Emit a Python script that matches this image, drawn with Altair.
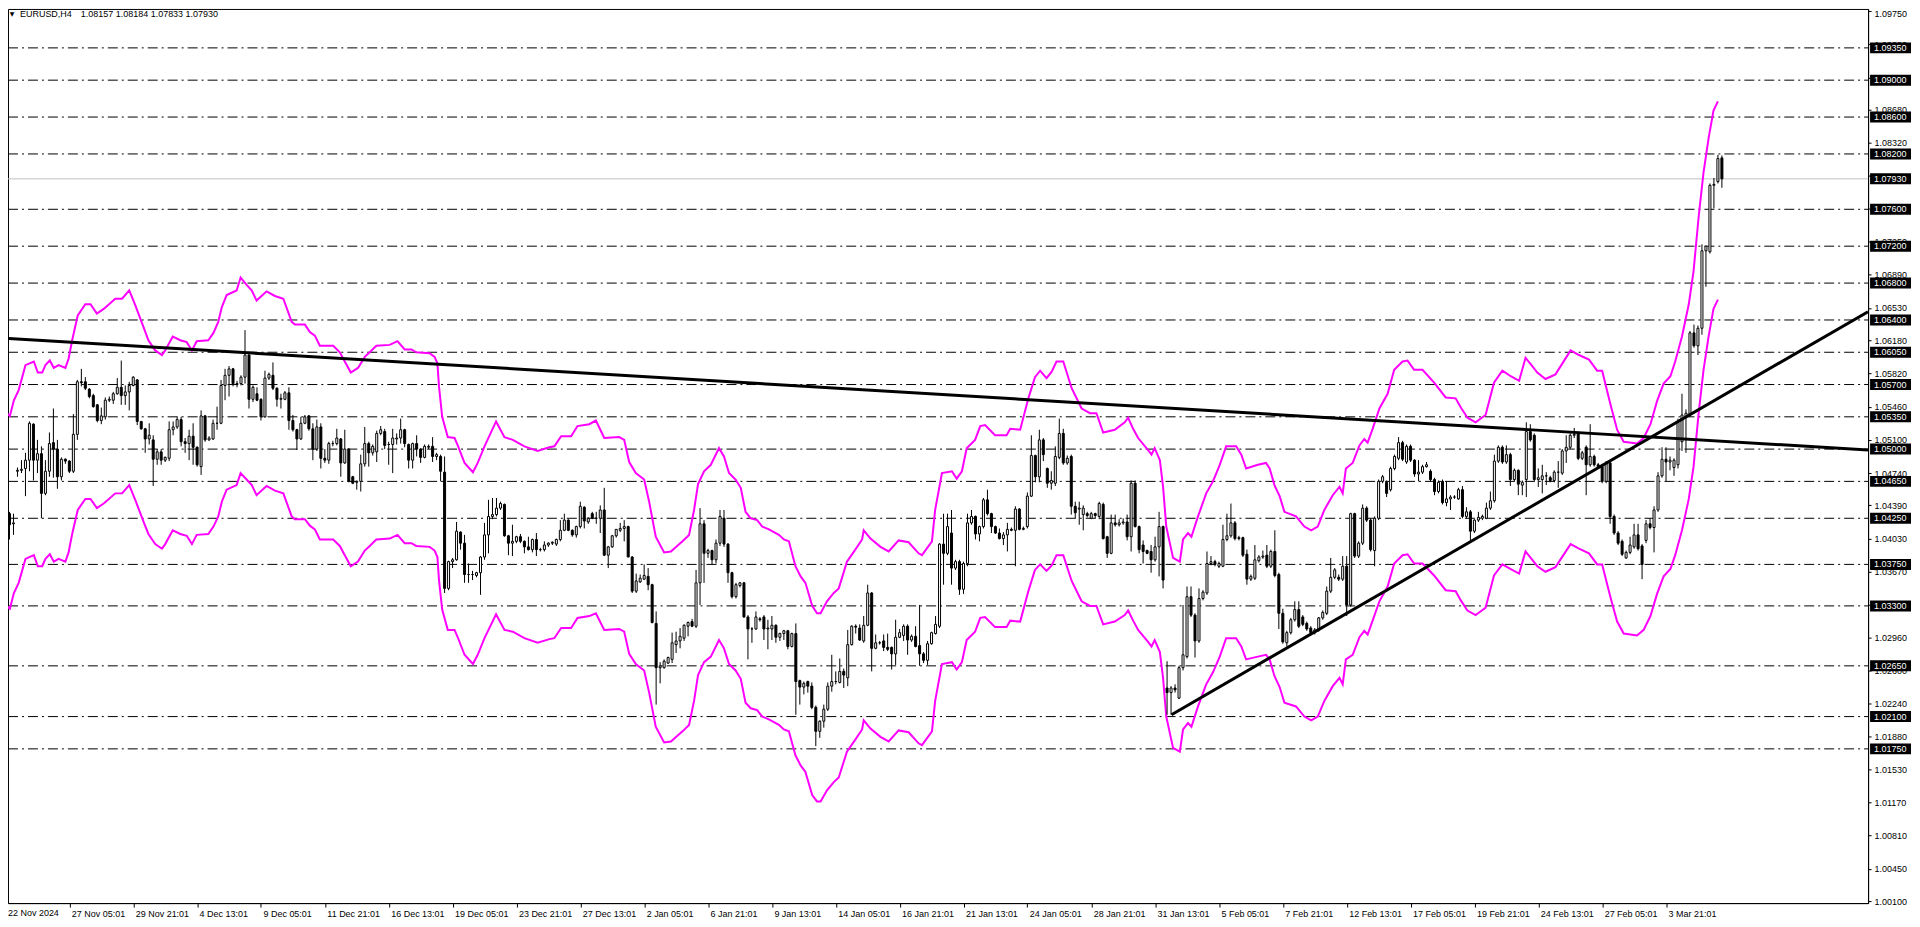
import altair as alt
import pandas as pd

# ---------------- data (prices in pips above 1.0000) ----------------
opens = [393,430,419,476,477,479,488,527,488,495, 452,476,507,500,470,489,487,476,516,573,
 573,565,558,548,531,535,553,553,560,567, 558,562,569,575,530,522,511,510,489,497,
 488,490,521,524,532,508,506,514,502,481, 536,510,511,528,528,569,580,587,571,571,
 578,602,554,560,554,535,577,580,566,554, 554,561,531,521,511,528,536,522,500,524,
 490,488,506,506,511,485,500,470,464,465, 484,506,496,497,517,519,505,505,511,512,
 521,505,488,506,500,491,502,503,492,492, 475,349,378,380,410,398,364,364,363,366,
 383,407,427,429,436,440,406,398,400,405, 400,394,391,402,391,391,396,398,397,402,
 412,423,412,407,416,437,421,430,425,425, 434,385,394,406,412,414,416,383,346,356,
 359,362,353,311,263,263,268,272,288,292, 295,308,313,308,355,419,387,390,380,398,
 425,397,366,340,352,355,318,305,305,316, 318,305,305,309,296,300,303,286,300,249,
 242,248,243,220,194,205,218,243,248,247, 259,252,288,308,306,292,309,344,284,290,
 292,285,285,278,296,298,308,293,297,287, 278,271,289,300,308,397,387,409,371,378,
 348,376,420,427,408,416,445,430,416,409, 403,407,413,412,435,413,416,449,493,470,
 510,479,463,463,491,517,485,492,438,435, 429,430,425,430,427,440,405,387,420,418,
 420,421,405,463,416,396,390,389,380,394, 416,241,236,241,230,263,275,340,320,292,
 338,344,376,378,373,373,402,406,420,403, 404,386,359,360,379,383,385,373,389,364,
 322,290,301,315,326,318,311,306,301,304, 317,322,346,361,361,359,373,331,430,384,
 398,436,423,390,425,465,464,456,479,490, 507,486,503,488,473,475,481,476,467,454,
 465,442,446,448,446,456,427,432,411,423, 425,425,436,444,487,502,486,494,467,477,
 461,467,519,515,467,467,471,469,466,475, 474,498,502,515,517,490,502,483,492,483,
 481,465,485,427,409,400,382,388,394,407, 395,401,419,415,434,471,489,486,480,483,
 508,535,537,626,612,631,715,714,786,790,815.7]
highs = [438,432,430,480,488,496,530,528,510,503, 488,518,544,510,491,490,488,538,575,587,
 578,566,560,549,545,556,557,562,577,596, 569,573,579,576,530,523,528,515,500,500,
 492,530,530,535,535,512,521,528,503,542, 537,514,532,546,575,587,590,588,574,580,
 629,603,569,567,555,585,583,594,567,560, 563,567,537,522,535,537,537,528,532,528,
 500,508,509,522,512,521,501,471,466,494, 524,508,505,520,525,522,508,522,517,533,
 522,506,507,515,501,505,505,513,496,494, 492,379,382,421,411,407,376,368,367,384,
 420,445,447,447,443,441,407,418,406,408, 401,405,403,409,393,400,399,400,403,423,
 430,424,413,417,443,438,426,432,432,439, 458,395,407,413,420,423,417,384,365,364,
 375,371,354,324,269,272,275,301,302,306, 310,313,316,369,436,423,392,391,402,434,
 434,398,367,355,356,356,320,307,324,318, 320,315,319,310,301,304,304,301,311,250,
 248,249,247,222,206,223,247,277,259,273, 262,304,309,310,310,319,353,345,299,292,
 299,300,286,315,305,310,310,299,308,331, 280,292,302,319,398,430,430,434,380,380,
 378,430,434,428,417,447,456,431,417,414, 410,420,415,438,436,416,453,515,494,521,
 512,480,476,503,533,522,493,494,443,443, 439,432,432,431,443,442,406,429,429,424,
 425,429,466,466,417,401,391,396,405,432, 417,270,243,245,265,331,351,351,322,349,
 347,389,384,380,378,418,430,441,422,406, 405,391,364,396,385,390,396,391,412,366,
 327,303,317,335,335,320,313,308,306,318, 325,351,382,371,364,384,384,431,431,400,
 440,438,425,427,467,472,466,481,494,513, 509,505,505,489,488,483,486,478,469,466,
 467,465,450,450,458,460,437,434,424,432, 429,442,454,494,504,504,504,496,479,478,
 466,529,527,517,479,483,475,471,477,487, 500,515,517,523,519,498,504,527,494,485,
 483,487,487,429,411,402,390,405,419,419, 397,423,425,438,475,502,502,492,490,533,
 560,543,628,635,634,722,720,788,794,819,818.4]
lows = [386,402,407,470,474,449,476,466,474,425, 450,470,469,457,466,484,474,474,510,568,
 564,555,545,529,527,532,551,549,559,548, 548,542,568,526,521,496,505,460,483,483,
 486,487,515,522,503,496,488,483,481,472, 508,509,510,521,527,553,557,568,567,569,
 571,544,551,552,531,534,575,564,546,544, 553,521,519,499,510,527,520,488,498,479,
 485,484,503,504,470,484,464,462,456,454, 481,481,493,486,515,500,483,474,505,506,
 502,479,479,492,485,490,500,486,488,465, 344,347,371,379,391,355,355,358,361,342,
 380,387,424,427,434,405,385,384,398,398, 387,390,388,384,389,389,394,396,395,400,
 411,411,405,404,414,414,419,424,419,409, 384,371,393,404,410,400,383,344,344,355,
 358,347,311,223,246,262,267,268,279,284, 292,297,307,306,331,355,382,375,376,395,
 394,355,338,338,350,317,272,290,304,313, 293,283,293,290,292,293,283,285,212,223,
 234,236,218,178,187,198,216,237,245,246, 241,243,287,300,292,290,308,259,283,288,
 281,281,261,266,295,292,277,291,285,265, 268,266,288,299,306,353,385,353,369,342,
 343,373,418,402,400,414,428,409,408,402, 396,389,411,373,412,412,414,448,464,464,
 487,458,456,460,489,483,483,429,425,418, 412,426,424,425,424,402,382,386,416,416,
 418,401,389,415,387,376,386,366,378,362, 349,212,212,236,229,260,273,318,274,290,
 336,342,374,373,371,372,400,404,401,401, 383,353,357,358,377,381,371,371,361,305,
 289,286,299,313,306,308,303,298,299,302, 315,320,344,359,357,357,319,329,382,382,
 396,421,389,373,423,463,448,454,477,488, 487,484,486,470,465,473,480,465,450,452,
 440,438,434,446,445,425,425,401,409,421, 423,424,434,442,485,484,484,460,465,450,
 450,448,508,465,459,452,461,464,464,458, 472,485,500,512,488,488,450,481,481,479,
 463,463,419,407,396,384,381,386,392,390, 359,398,413,388,432,469,465,477,471,479,
 498,496,535,610,602,624,676,712,761,788,783.3]
closes = [429,418,420,477,478,488,528,488,495,452, 476,506,500,470,489,487,476,516,573,572,
 566,557,546,531,536,553,554,560,567,558, 562,569,578,530,522,511,515,489,497,488,
 491,521,524,532,508,506,514,502,483,536, 510,512,528,528,569,580,587,571,570,578,
 602,554,567,553,535,577,581,566,554,555, 561,531,521,511,528,535,522,500,524,490,
 488,506,506,512,485,500,465,463,465,484, 506,496,503,517,521,504,505,512,512,521,
 506,488,506,500,491,503,503,492,494,476, 349,378,380,411,398,364,364,364,366,383,
 407,427,429,436,441,406,398,400,405,400, 394,391,402,391,391,396,398,399,402,412,
 423,412,407,416,438,422,425,425,425,434, 385,394,406,413,414,416,383,346,357,360,
 363,353,312,263,265,270,274,290,292,297, 309,312,308,355,419,387,390,380,398,427,
 397,366,340,353,355,318,305,305,318,315, 305,306,309,296,300,303,286,300,248,242,
 246,243,220,194,205,218,243,248,248,259, 255,288,308,307,293,309,344,284,290,290,
 285,283,278,296,301,308,293,297,286,278, 271,289,301,310,397,387,416,371,378,348,
 376,420,427,408,416,445,430,416,409,403, 407,413,412,435,413,414,449,493,470,510,
 494,463,466,492,517,485,490,438,431,436, 436,428,430,428,441,403,387,420,418,420,
 421,405,463,416,391,389,387,380,394,416, 358,236,241,239,263,277,340,320,292,338,
 345,376,378,375,376,402,406,420,403,404, 385,359,362,380,383,384,373,389,363,322,
 291,301,315,326,308,310,305,301,304,317, 323,346,361,369,359,373,331,430,384,398,
 436,423,391,425,465,470,452,479,492,507, 489,503,488,473,475,481,483,467,454,464,
 442,446,448,448,456,427,432,411,423,426, 427,436,444,487,502,486,494,467,477,462,
 464,519,510,467,469,471,471,466,475,475, 498,502,515,516,490,496,483,492,483,481,
 465,485,427,409,398,386,388,396,407,392, 375,419,415,434,471,489,486,488,488,529,
 537,539,626,612,631,715,720,786,787,815,793.0]

# Envelope indicator (upper / lower band), read at bar positions
env_x = [0,1.1,2.1,3.3,5,7.1,8.1,9.2,10,11.1, 12.1,13.3,15,15.8,16.7,18.1,20,21.3,22.9,24.6,
 27.5,29.2,31,32.5,34.6,35.8,37.5,39.2,40,41.9, 43.8,45.4,46.7,47.9,50.8,52.1,53.3,54.2,55.4,57.9,
 58.9,60.4,61.7,62.9,65.4,67.5,69.6,71.7,72.5,75, 76.25,77.5,78.75,82.1,83.75,85,86.5,88.3,
 90,91.25,92.9,96.25,98.2,100,101.7,102.9,106.25,107.5, 108.2,108.6,109.4,110.8,112.5,113.3,115,117.1,118.3,120,
 122.9,125,127.1,130,133.3,136.25,137.5,139.2,141.7,143.3, 146.25,147.9,150,153.75,155,156.25,157.9,160,161.25,162.9,
 165,166.7,169.6,171.25,172.5,
 173.5,175,176.7,178.75,180,181.25,182.9,184.2,185.4,186.7, 188.3,189.6,191.25,193.75,195,196.25,197.9,199.2,200.4,202.1,
 203.3,204.2,205.8,207.5,208.75,210.8,212.9,214.6,215,216.7, 219.2,221.25,223.75,226.25,228.75,229.6,232.1,232.9,234.6,237.1,
 238.3,239.6,240.8,242.9,244.2,245.4,247.9,250.8,251.7,254.2, 256.25,257.9,259.2,260.8,
 262.1,263.3,265,267.1,269.6,271.7,273.3,275,277.9,280.4, 281.25,282.5,283.75,286.25,287.1,287.9,289.2,290,290.8,292.5,
 294.2,295,296.25,297.1,298.75,300.8,302.5,304.2,305.8,308.3, 309.6,310.8,313.75,315.8,316.7,317.9,319.2,320.4,323.3,325.4,
 327.1,328.75,330.4,332.5,334.2,335,335.8,337.5,339.2,340.4, 341.25,342.5,344.2,346.25,347.9,350,351.25,
 352.9,355,357.9,360.8,363.3,364.6,366.25,368.3,370.8,372.9, 375,377.1,379.2,380.8,382.1,383.75,385.8,388.3,392.1,394.2,
 396.7,398.75,400,402.1,403.75,405.4,408.75,410.4,412.1,413.75, 415.4,417.1,418.3,420,421.7,422.9,424.2,425.4,426.7,427.9,
 429]
env_upper = [540,536,553,564,591,595,583,583,591,596, 588,591,588,598,618,645,657,657,647,652,
 663,663,672,656,632,618,607,602,607,622, 618,616,607,617,618,626,638,654,667,672,
 686,678,672,661,671,666,663,638,635,635, 627,623,612,612,605,595,583,588,
 600,605,612,613,617,608,608,605,604,600, 593,568,535,513,512,504,485,475,485,503,
 530,513,510,503,498,502,503,514,514,525, 527,531,512,513,510,486,474,467,443,405,
 388,389,400,407,434,
 462,476,483,501,492,474,467,458,432,425, 423,416,413,407,402,400,373,362,355,330,
 322,322,335,344,349,378,391,402,412,403, 394,389,401,399,387,385,400,434,474,476,
 468,476,501,510,525,526,515,515,522,521, 555,578,585,577,
 584,595,595,566,544,539,539,518,521,529, 534,522,512,499,494,501,488,459,416,382,
 378,402,409,405,427,452,465,483,503,503, 494,479,483,485,479,461,449,432,427,416,
 412,416,434,450,459,452,479,485,504,511, 507,522,544,560,586,595,596,
 586,586,572,556,555,545,534,529,537,572, 585,579,574,599,592,583,576,581,607,602,
 597,585,585,548,521,508,506,512,527,552, 571,579,595,622,657,693,753,800,838,867,
 877]
env_lower = [331,327,344,355,381,385,373,373,381,386, 378,381,378,388,408,434,446,446,436,441,
 452,452,461,445,421,408,397,392,397,412, 408,406,397,407,408,416,427,443,456,461,
 474,467,461,450,460,455,452,427,424,424, 417,413,402,402,395,385,373,378,
 390,395,402,403,407,398,398,395,394,390, 383,358,326,304,304,296,277,267,277,295,
 321,304,302,295,290,294,295,306,306,317, 319,322,304,305,302,278,267,260,236,199,
 182,183,194,201,227,
 255,269,275,293,284,267,260,251,225,219, 217,210,207,201,196,194,168,157,150,125,
 118,118,130,139,144,172,185,196,206,197, 188,183,195,193,181,179,194,227,267,269,
 261,269,293,302,317,318,307,307,314,313, 346,369,375,368,
 374,385,385,357,335,330,330,310,313,320, 325,314,304,291,286,293,280,252,210,176,
 172,196,203,199,221,245,258,275,295,295, 286,272,275,277,272,254,242,225,221,210,
 206,210,227,243,252,245,272,277,296,303, 299,314,335,351,376,385,386,
 376,376,363,347,346,336,325,320,328,363, 375,370,365,389,382,373,367,372,397,392,
 387,375,375,339,313,300,298,304,319,343, 362,370,385,412,446,481,540,586,623,652,
 662]

levels = [1.0935, 1.0900, 1.0860, 1.0820, 1.0760, 1.0720, 1.0680, 1.0640, 1.0605, 1.0570,
          1.0535, 1.0500, 1.0465, 1.0425, 1.0375, 1.0330, 1.0265, 1.0210, 1.0175]
bid_price = 1.0793
price_ticks = [1.0010, 1.0045, 1.0081, 1.0117, 1.0153, 1.0188, 1.0224, 1.0260, 1.0296, 1.0331,
               1.0367, 1.0403, 1.0439, 1.0474, 1.0510, 1.0546, 1.0582, 1.0618, 1.0653, 1.0689,
               1.0725, 1.0761, 1.0796, 1.0832, 1.0868, 1.0903, 1.0939, 1.0975]
date_labels = ['22 Nov 2024', '27 Nov 05:01', '29 Nov 21:01', '4 Dec 13:01', '9 Dec 05:01',
               '11 Dec 21:01', '16 Dec 13:01', '19 Dec 05:01', '23 Dec 21:01', '27 Dec 13:01',
               '2 Jan 05:01', '6 Jan 21:01', '9 Jan 13:01', '14 Jan 05:01', '16 Jan 21:01',
               '21 Jan 13:01', '24 Jan 05:01', '28 Jan 21:01', '31 Jan 13:01', '5 Feb 05:01',
               '7 Feb 21:01', '12 Feb 13:01', '17 Feb 05:01', '19 Feb 21:01', '24 Feb 13:01',
               '27 Feb 05:01', '3 Mar 21:01']
label_step = 16

trend_down_x = [0.8, 466.6]
trend_down_p = [1.0620, 1.0499]
trend_up_x = [292.1, 466.6]
trend_up_p = [1.0212, 1.0649]

symbol_text = "EURUSD,H4"
ohlc_text = "1.08157 1.08184 1.07833 1.07930"

# ---------------- chart ----------------
FONT = "Liberation Sans"
W, H = 1864, 896
xs = alt.Scale(domain=[0.625, 466.625], nice=False, zero=False)
ys = alt.Scale(domain=[1.00078, 1.09772], nice=False, zero=False)

label_expr = "[" + ",".join("'" + s + "'" for s in date_labels) + "][round(datum.value / %d)]" % label_step
x_axis = alt.Axis(values=list(range(label_step, label_step * len(date_labels), label_step)), labelExpr=label_expr,
                  title=None, grid=False, tickSize=4, tickColor="black", domainColor="black",
                  labelAlign="left", labelOffset=2, labelPadding=2, labelFont=FONT, labelFontSize=9,
                  labelColor="black", labelOverlap=False, labelFlush=False, labelBound=False)
y_axis = alt.Axis(orient="right", values=price_ticks, format=".5f", title=None, grid=False,
                  tickSize=3, tickColor="black", domainColor="black", labelPadding=3,
                  labelFont=FONT, labelFontSize=9, labelColor="black", labelOverlap=False,
                  labelFlush=False, labelBound=False,
                  labelOffset={"condition": {"test": "datum.value > 1.097", "value": 3}, "value": 0})


def X(f):
    return alt.X(f, type="quantitative", scale=xs, axis=x_axis)


def Y(f):
    return alt.Y(f, type="quantitative", scale=ys, axis=y_axis)


def px(v):
    return 1.0 + v / 10000.0


n = len(closes)
bars = pd.DataFrame({
    "i": list(range(n)),
    "o": [px(v) for v in opens],
    "h": [px(v) for v in highs],
    "l": [px(v) for v in lows],
    "c": [px(v) for v in closes],
})
bars["top"] = bars[["o", "c"]].max(axis=1)
bars["bot"] = bars[["o", "c"]].min(axis=1)
bars["dir"] = ["up" if c >= o else "down" for o, c in zip(bars["o"], bars["c"])]

env_df = pd.concat([
    pd.DataFrame({"x": env_x, "v": [px(v) for v in env_upper], "band": "upper"}),
    pd.DataFrame({"x": env_x, "v": [px(v) for v in env_lower], "band": "lower"}),
])
trend_df = pd.concat([
    pd.DataFrame({"x": trend_down_x, "p": trend_down_p, "line": "down"}),
    pd.DataFrame({"x": trend_up_x, "p": trend_up_p, "line": "up"}),
])
lev_df = pd.DataFrame({"p": levels})
bid_df = pd.DataFrame({"p": [bid_price]})
box_df = pd.DataFrame({"p": levels + [bid_price]})

level_lines = alt.Chart(lev_df).mark_rule(color="black", strokeWidth=1, strokeDash=[10, 4, 2, 4], clip=True).encode(
    y=Y("p"), x=alt.value(0), x2=alt.value(W))
bid_line = alt.Chart(bid_df).mark_rule(color="#C0C0C0", strokeWidth=1, clip=True).encode(
    y=Y("p"), x=alt.value(0), x2=alt.value(W))
env = alt.Chart(env_df).mark_line(color="#FF00FF", strokeWidth=2, clip=True).encode(
    x=X("x"), y=Y("v"), detail="band:N")
wicks = alt.Chart(bars).mark_rule(color="black", strokeWidth=1, clip=True).encode(
    x=X("i"), y=Y("l"), y2=alt.Y2("h"))
bodies = alt.Chart(bars).transform_calculate(
    xa="datum.i - 0.25", xb="datum.i + 0.25"
).mark_rect(stroke="black", strokeWidth=1, clip=True).encode(
    x=X("xa"), x2=alt.X2("xb"), y=Y("bot"), y2=alt.Y2("top"),
    fill=alt.Fill("dir:N", scale=alt.Scale(domain=["up", "down"], range=["white", "black"]), legend=None))
trends = alt.Chart(trend_df).mark_line(color="black", strokeWidth=3, clip=True).encode(
    x=X("x"), y=Y("p"), detail="line:N")
boxes = alt.Chart(box_df).mark_rule(color="black", strokeWidth=11, strokeCap="butt", clip=False).encode(
    y=Y("p"), x=alt.value(W + 2), x2=alt.value(W + 43))
box_text = alt.Chart(box_df).mark_text(align="left", baseline="middle", color="white", font=FONT,
                                        fontSize=9, clip=False).encode(
    y=Y("p"), x=alt.value(W + 6), text=alt.Text("p:Q", format=".5f"))

# first date label (its bar sits just left of the plot edge)
first_df = pd.DataFrame({"t": [date_labels[0]]})
first_label = alt.Chart(first_df).mark_text(align="left", baseline="top", color="black", font=FONT,
                                            fontSize=9, clip=False).encode(
    x=alt.value(0), y=alt.value(H + 6), text="t:N")

title_df = pd.DataFrame({"t": [symbol_text]})
title_sym = alt.Chart(title_df).mark_text(align="left", baseline="middle", color="black", font=FONT,
                                          fontSize=9).encode(x=alt.value(12), y=alt.value(5), text="t:N")
ohlc_df = pd.DataFrame({"t": [ohlc_text]})
title_ohlc = alt.Chart(ohlc_df).mark_text(align="left", baseline="middle", color="black", font=FONT,
                                          fontSize=9).encode(x=alt.value(73), y=alt.value(5), text="t:N")
tri_df = pd.DataFrame({"t": ["\u25BC"]})
title_tri = alt.Chart(tri_df).mark_text(align="center", baseline="middle", color="black",
                                        font="DejaVu Sans", fontSize=6).encode(
    x=alt.value(4), y=alt.value(5), text="t:N")

chart = alt.layer(
    level_lines, bid_line, env, wicks, bodies, trends, boxes, box_text,
    first_label, title_tri, title_sym, title_ohlc
).properties(
    width=W, height=H,
    padding={"left": 0, "top": 0, "right": 44, "bottom": 18},
    autosize=alt.AutoSizeParams(type="none"),
    background="white",
).configure_view(stroke="black", strokeWidth=1)

chart.save("out.html", embed_options={"renderer": "svg", "actions": False})
